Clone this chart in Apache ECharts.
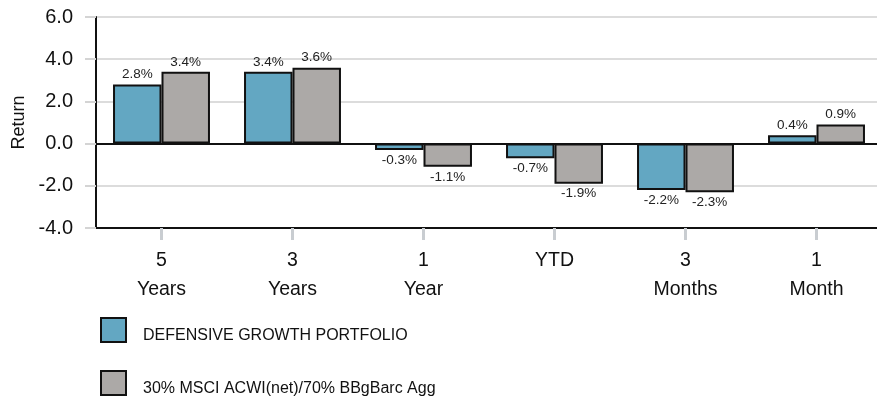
<!DOCTYPE html>
<html>
<head>
<meta charset="utf-8">
<script src="https://cdn.jsdelivr.net/npm/echarts@6/dist/echarts.min.js"></script>
<style>
  html, body { margin: 0; padding: 0; background: #fff; }
  #chart { width: 877px; height: 404px; }
</style>
</head>
<body>
<div id="chart"></div>
<script>
// categories (two-line tick labels)
const periods = ['5\nYears', '3\nYears', '1\nYear', 'YTD', '3\nMonths', '1\nMonth'];
// returns in %
const portfolio = [2.8, 3.4, -0.3, -0.7, -2.2, 0.4];
const benchmark = [3.4, 3.6, -1.1, -1.9, -2.3, 0.9];
const seriesNames = ['DEFENSIVE GROWTH PORTFOLIO', '30% MSCI ACWI(net)/70% BBgBarc Agg'];
const yTicks = { min: -4, max: 6, step: 2 };

const font = '"Liberation Sans", Arial, sans-serif';

// label above for positive bars, below for negative ones
const withLabels = (values) => values.map(v => ({
  value: v,
  label: { position: v < 0 ? 'bottom' : 'top' }
}));

const chart = echarts.init(document.getElementById('chart'));

const barStyle = (color) => ({
  color: color,
  borderColor: '#111',
  borderWidth: 2
});

const barLabel = {
  show: true,
  distance: 3,
  fontFamily: font,
  fontSize: 13.5,
  color: '#222',
  formatter: (p) => p.value.toFixed(1) + '%'
};

// one legend block per series, stacked vertically
// (empty first line pushes the text a little below the swatch centre)
const legendBlock = (name, top) => ({
  orient: 'vertical',
  left: 100,
  top: top,
  padding: 0,
  itemWidth: 25,
  itemHeight: 24,
  icon: 'rect',
  itemStyle: { borderColor: '#111', borderWidth: 2 },
  formatter: (n) => '\n' + n,
  textStyle: {
    fontFamily: font,
    fontSize: 16,
    lineHeight: 12,
    color: '#111',
    padding: [0, 0, 0, 12]
  },
  data: [name]
});

chart.setOption({
  animation: false,
  textStyle: { fontFamily: font },
  grid: {
    left: 96,
    top: 17,
    width: 786,
    height: 211,
    outerBoundsMode: 'none'
  },
  legend: [
    legendBlock(seriesNames[0], 316),
    legendBlock(seriesNames[1], 369)
  ],
  xAxis: {
    type: 'category',
    data: periods,
    axisLine: { onZero: false, lineStyle: { color: '#111', width: 2 } },
    axisTick: {
      show: true,
      alignWithLabel: true,
      length: 12,
      lineStyle: { color: '#c9cdd1', width: 3 }
    },
    axisLabel: {
      margin: 18,
      fontSize: 19.5,
      lineHeight: 29,
      color: '#111'
    }
  },
  yAxis: {
    type: 'value',
    position: 'left',
    min: yTicks.min,
    max: yTicks.max,
    interval: yTicks.step,
    name: 'Return',
    nameLocation: 'middle',
    nameGap: 66,
    nameTextStyle: { fontSize: 18, color: '#111' },
    axisLine: { show: true, lineStyle: { color: '#111', width: 2 } },
    axisTick: {
      show: true,
      inside: false,
      length: 11,
      lineStyle: { color: '#d4d4d4', width: 2 }
    },
    axisLabel: {
      margin: 23,
      fontSize: 20,
      color: '#111',
      formatter: (v) => v.toFixed(1)
    },
    splitLine: {
      lineStyle: {
        color: ['#dcdcdc', '#dcdcdc', '#111', '#dcdcdc', '#dcdcdc', '#dcdcdc'],
        width: 2
      }
    }
  },
  series: [
    {
      name: seriesNames[0],
      type: 'bar',
      data: withLabels(portfolio),
      barGap: '0%',
      barCategoryGap: '26%',
      itemStyle: barStyle('#63a7c2'),
      label: barLabel
    },
    {
      name: seriesNames[1],
      type: 'bar',
      data: withLabels(benchmark),
      itemStyle: barStyle('#aca9a7'),
      label: barLabel
    }
  ]
});
</script>
</body>
</html>
